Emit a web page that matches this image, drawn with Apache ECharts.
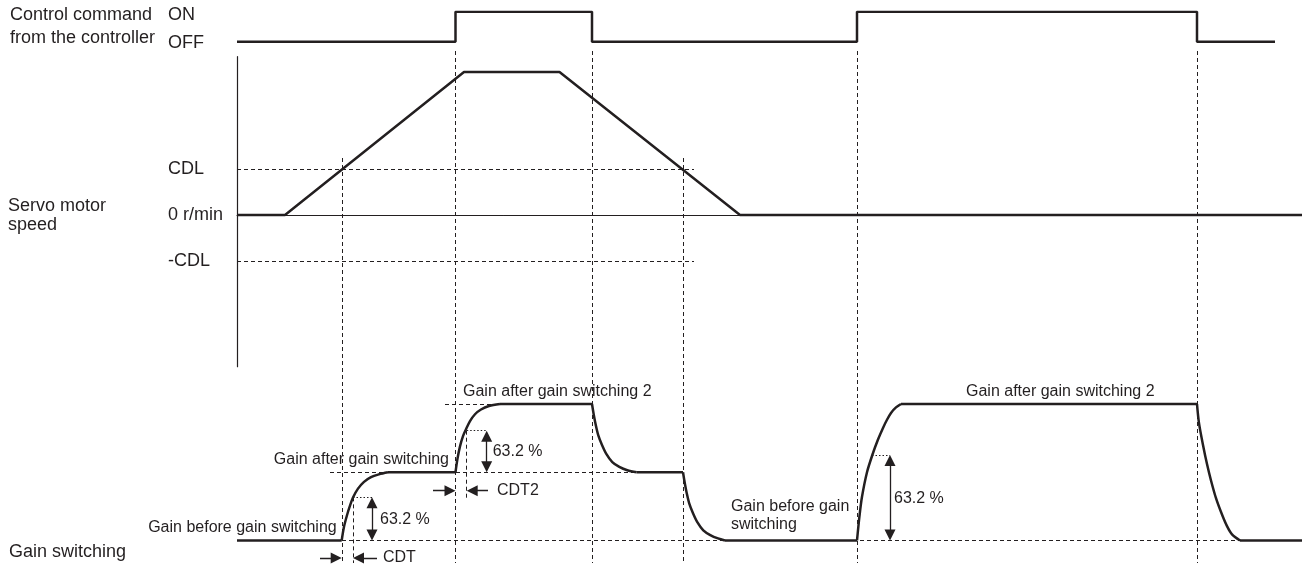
<!DOCTYPE html>
<html>
<head>
<meta charset="utf-8">
<script src="https://cdn.jsdelivr.net/npm/echarts@6/dist/echarts.min.js"></script>
<style>
  html, body { margin: 0; padding: 0; background: #fff; }
  #chart { width: 1302px; height: 568px; }
</style>
</head>
<body>
<div id="chart"></div>
<script>
// time runs from the left edge of the traces, same scale in all three rows
const timeRange = [0, 1065];

// control command from the controller (step signal, 0 = OFF, 1 = ON)
const cmdLevels = ["OFF", "ON"];
const cmdPoints = [[0, 0], [218.5, 1], [355, 0], [620, 1], [960, 0], [1038, 0]];

// servo motor speed (r/min, arbitrary scale)
const speedPoints = [[0, 0], [48, 0], [227, 1430], [322.5, 1430], [503, 0], [1065, 0]];
const cdl = 460;
const cdlLineEnd = 457;
const speedTicks = [cdl, 0, -cdl];
const speedTickLabels = ["CDL", "0 r/min", "-CDL"];

// instants marked with vertical dashed lines
const eventTimes = [218.5, 355, 620, 960];
const cdlCrossTimes = [105, 446];

// gain switching (0 = before, 1 = after, 2 = after 2)
const gainFlats = [
  [[0, 0], [104.7, 0]],
  [[151, 1], [218.5, 1]],
  [[263, 2], [355, 2]],
  [[399.7, 1], [446, 1]],
  [[488, 0], [620, 0]],
  [[664, 2], [960, 2]],
  [[1003, 0], [1065, 0]],
];
const gainRise1 = [[104.7, 0], [107, 0.2], [110, 0.37], [113, 0.51], [116, 0.63], [121, 0.76], [127, 0.86], [134, 0.93], [142, 0.97], [151, 1]];
const gainRise2 = [[218.5, 1], [220.5, 1.2], [223, 1.38], [226, 1.53], [229, 1.63], [233, 1.75], [238, 1.85], [244, 1.92], [252, 1.97], [263, 2]];
const gainDecay1 = [[355, 2], [356.8, 1.84], [358.8, 1.69], [361.3, 1.54], [365, 1.4], [369.3, 1.27], [375.3, 1.15], [382.3, 1.08], [390.3, 1.03], [399.7, 1]];
const gainDecay2 = [[446, 1], [447.8, 0.84], [449.8, 0.69], [452.3, 0.54], [456, 0.4], [460.3, 0.27], [466.3, 0.15], [473.3, 0.08], [481, 0.03], [488, 0]];
const gainRise3 = [[620, 0], [622.5, 0.36], [625, 0.64], [630, 1.0], [635.5, 1.26], [641, 1.48], [646, 1.65], [650, 1.77], [654, 1.87], [659, 1.95], [664, 2]];
const gainDecay3 = [[960, 2], [962, 1.72], [966, 1.4], [970, 1.12], [974, 0.88], [979, 0.62], [985, 0.38], [990, 0.21], [995, 0.09], [1003, 0]];

// 63.2 % and CDT markers
const pct = [[116, 0, 0.632, 135], [229.7, 1, 1.609, 249.7], [635, 0, 1.253, 653]]; // [t at 63.2%, from, to, arrow t]
const cdtMarks = [[104.7, 116, -0.256, 83, 140], [218.5, 229.7, 0.73, 196, 251]]; // [start, end, level, left tail, right tail]

const gainLabels = [
  { name: "Gain before gain switching", value: [99.7, 0.183], align: "right" },
  { name: "Gain after gain switching", value: [212, 1.18], align: "right" },
  { name: "Gain after gain switching 2", value: [226, 2.176], align: "left" },
  { name: "63.2 %", value: [143, 0.3], align: "left" },
  { name: "63.2 %", value: [255.7, 1.3], align: "left" },
  { name: "CDT", value: [146, -0.256], align: "left" },
  { name: "CDT2", value: [260, 0.73], align: "left" },
  { name: "Gain before gain\nswitching", value: [494, 0.359], align: "left" },
  { name: "Gain after gain switching 2", value: [729, 2.176], align: "left" },
  { name: "63.2 %", value: [657, 0.62], align: "left" },
];

const INK = "#231f20";
const FONT = 'Arial, "Liberation Sans", sans-serif';

// gain row scale: px per gain unit, used to pull arrow heads back onto their tips
const gainMin = -0.403, gainMax = 2.396, gainGridH = 191;
const pxPerGain = gainGridH / (gainMax - gainMin);
const head = 5.5;

const dashed = { color: INK, width: 1, type: [4, 3], opacity: 1 };
const dotted = { color: INK, width: 1, type: [1.5, 2], opacity: 1 };
const trace = { color: INK, width: 2.5, opacity: 1 };
const arrowLine = { color: INK, width: 1.3, opacity: 1 };

const xAxes = [0, 1, 2].map((i) => ({
  type: "value",
  gridIndex: i,
  min: timeRange[0],
  max: timeRange[1],
  show: i === 1,
  axisLine: { show: i === 1, onZero: true, lineStyle: { color: INK, width: 1 } },
  axisTick: { show: false },
  axisLabel: { show: false },
  splitLine: { show: false },
}));

const labelStyle = { color: INK, fontSize: 18, fontFamily: FONT, align: "left", margin: 69 };

const vArrow = (t, from, to) => ({
  coords: [[t, from + head / pxPerGain], [t, to - head / pxPerGain]],
});

const labelSeries = {
  type: "scatter",
  xAxisIndex: 2,
  yAxisIndex: 2,
  symbolSize: 0,
  silent: true,
  itemStyle: { opacity: 1 },
  data: gainLabels.map((d) => ({
    name: d.name,
    value: d.value,
    label: { align: d.align },
  })),
  label: {
    show: true,
    position: "inside",
    verticalAlign: "middle",
    formatter: (p) => p.name,
    color: INK,
    opacity: 1,
    fontSize: 16,
    lineHeight: 18,
    fontFamily: FONT,
  },
};

const curve = (data) => ({
  type: "line",
  xAxisIndex: 2,
  yAxisIndex: 2,
  data: data,
  smooth: 0.3,
  symbol: "none",
  lineStyle: trace,
});

const option = {
  animation: false,
  backgroundColor: "#fff",
  textStyle: { fontFamily: FONT },
  grid: [
    { left: 237, right: 0, top: 11.7, height: 30 },
    { left: 237, right: 0, top: 56.7, height: 310 },
    { left: 237, right: 0, top: 377, height: gainGridH },
  ],
  xAxis: xAxes,
  yAxis: [
    {
      type: "value", gridIndex: 0, min: 0, max: 1, interval: 1,
      axisLine: { show: false }, axisTick: { show: false }, splitLine: { show: false },
      axisLabel: Object.assign({
        formatter: (v) => (v === 1 ? "{on|ON}" : "{off|OFF}"),
        rich: {
          on: { fontSize: 18, fontFamily: FONT, color: INK, padding: [6, 0, 0, 0] },
          off: { fontSize: 18, fontFamily: FONT, color: INK, padding: [2, 0, 0, 0] },
        },
      }, labelStyle),
    },
    {
      type: "value", gridIndex: 1, min: -1517, max: 1583,
      axisLine: { show: true, lineStyle: { color: INK, width: 1.2 } },
      axisTick: { show: false }, splitLine: { show: false },
      axisLabel: Object.assign({
        customValues: speedTicks,
        formatter: (v) => speedTickLabels[speedTicks.indexOf(v)] || "",
      }, labelStyle),
    },
    { type: "value", gridIndex: 2, min: gainMin, max: gainMax, show: false },
  ],
  graphic: [
    { type: "text", left: 10, top: 6, style: { text: "Control command", fontSize: 18, fontFamily: FONT, fill: INK } },
    { type: "text", left: 10, top: 29, style: { text: "from the controller", fontSize: 18, fontFamily: FONT, fill: INK } },
    { type: "text", left: 8, top: 197, style: { text: "Servo motor", fontSize: 18, fontFamily: FONT, fill: INK } },
    { type: "text", left: 8, top: 216, style: { text: "speed", fontSize: 18, fontFamily: FONT, fill: INK } },
    { type: "text", left: 9, top: 543, style: { text: "Gain switching", fontSize: 18, fontFamily: FONT, fill: INK } },
  ],
  series: [
    // command
    {
      type: "line", xAxisIndex: 0, yAxisIndex: 0, data: cmdPoints, step: "end",
      symbol: "none", lineStyle: trace,
    },
    // CDL levels
    {
      type: "lines", coordinateSystem: "cartesian2d", xAxisIndex: 1, yAxisIndex: 1,
      lineStyle: dashed, silent: true,
      data: [cdl, -cdl].map((v) => ({ coords: [[0, v], [cdlLineEnd, v]] })),
    },
    // vertical event guides running down through speed and gain rows
    {
      type: "lines", coordinateSystem: "cartesian2d", xAxisIndex: 1, yAxisIndex: 1,
      lineStyle: dashed, silent: true, clip: false,
      data: eventTimes.map((t) => ({ coords: [[t, 1640], [t, -3480]] }))
        .concat(cdlCrossTimes.map((t) => ({ coords: [[t, 570], [t, -3480]] }))),
    },
    // speed
    {
      type: "line", xAxisIndex: 1, yAxisIndex: 1, data: speedPoints,
      symbol: "none", lineStyle: trace,
    },
    // gain reference levels
    {
      type: "lines", coordinateSystem: "cartesian2d", xAxisIndex: 2, yAxisIndex: 2,
      lineStyle: dashed, silent: true,
      data: [
        { coords: [[105, 0], [1065, 0]] },
        { coords: [[93, 1], [446, 1]] },
        { coords: [[208, 2], [263, 2]] },
        { coords: [[pct[0][0], pct[0][2]], [pct[0][0], -0.33]] },
        { coords: [[pct[1][0], pct[1][2]], [pct[1][0], 0.62]] },
      ],
    },
    // 63.2 % dotted ticks
    {
      type: "lines", coordinateSystem: "cartesian2d", xAxisIndex: 2, yAxisIndex: 2,
      lineStyle: dotted, silent: true,
      data: pct.map((p) => ({ coords: [[p[0], p[2]], [p[3], p[2]]] })),
    },
    // gain flats
    {
      type: "lines", coordinateSystem: "cartesian2d", xAxisIndex: 2, yAxisIndex: 2,
      polyline: true, lineStyle: trace, silent: true,
      data: gainFlats.map((s) => ({ coords: s })),
    },
    curve(gainRise1),
    curve(gainRise2),
    curve(gainDecay1),
    curve(gainDecay2),
    curve(gainRise3),
    curve(gainDecay3),
    // 63.2 % double arrows
    {
      type: "lines", coordinateSystem: "cartesian2d", xAxisIndex: 2, yAxisIndex: 2,
      symbol: ["triangle", "triangle"], symbolSize: 11,
      lineStyle: arrowLine, itemStyle: { color: INK, opacity: 1 }, silent: true,
      data: pct.map((p) => vArrow(p[3], p[1], p[2])),
    },
    // CDT arrows
    {
      type: "lines", coordinateSystem: "cartesian2d", xAxisIndex: 2, yAxisIndex: 2,
      symbol: ["none", "triangle"], symbolSize: 11,
      lineStyle: arrowLine, itemStyle: { color: INK, opacity: 1 }, silent: true,
      data: cdtMarks.flatMap((c) => [
        { coords: [[c[3], c[2]], [c[0] - head, c[2]]] },
        { coords: [[c[4], c[2]], [c[1] + head, c[2]]] },
      ]),
    },
    labelSeries,
  ],
};

const chart = echarts.init(document.getElementById("chart"));
chart.setOption(option);
</script>
</body>
</html>
